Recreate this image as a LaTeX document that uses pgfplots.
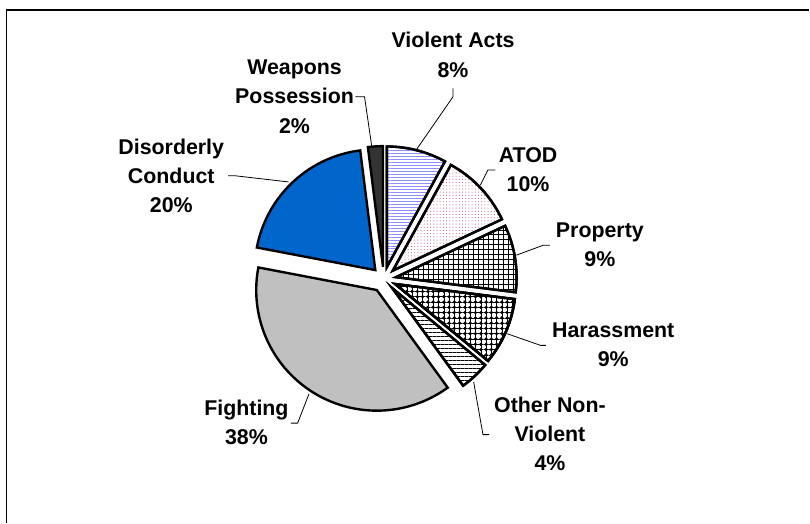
\documentclass[border=0pt]{standalone}
\usepackage{fontspec}
\setmainfont{Liberation Sans}
\usepackage{pgfplots}
\pgfplotsset{compat=1.18}
\usetikzlibrary{patterns,patterns.meta}

\definecolor{fightgray}{RGB}{192,192,192}
\definecolor{discblue}{RGB}{0,102,204}
\definecolor{weapdark}{RGB}{51,51,51}
\definecolor{vlines}{RGB}{140,140,255}
\definecolor{atoddots}{RGB}{190,70,100}

\def\cx{385}\def\cy{280}\def\R{121}

% #1 start (percent), #2 value (percent), #3 explosion, #4 style
\newcommand{\pieslice}[4]{%
 \pgfmathsetmacro{\sa}{90-3.6*(#1)}%
 \pgfmathsetmacro{\ea}{90-3.6*((#1)+(#2))}%
 \pgfmathsetmacro{\ma}{(\sa+\ea)/2}%
 \pgfmathsetmacro{\ax}{\cx+(#3)*cos(\ma)}%
 \pgfmathsetmacro{\ay}{\cy-(#3)*sin(\ma)}%
 \edef\doslice{\noexpand\addplot[\unexpanded{#4}, domain=\ea:\sa, samples=90]
   ({\ax+\R*cos(x)},{\ay-\R*sin(x)}) -- (axis cs:\ax,\ay) -- cycle;}%
 \doslice
}

\tikzset{lbl/.style={align=center, font={\fontsize{21.5}{29.5}\selectfont\bfseries}, inner sep=0pt}}

\begin{document}
\begin{tikzpicture}
\begin{axis}[x=1bp, y=1bp, scale only axis,
  xmin=0, xmax=810, ymin=0, ymax=525, y dir=reverse,
  hide axis, clip=false]
\path (axis cs:0,0) rectangle (axis cs:810,525);
% frame
\addplot[black, line width=1.2bp] coordinates {(6.5,525) (6.5,10) (812,10)};

% slices: start%, value%
\pieslice{0}{8}{12.4}{draw=black, line width=2.4bp, preaction={fill=white}, pattern={Lines[angle=0,distance=3bp,line width=0.6bp]}, pattern color=vlines}
\pieslice{8}{10}{12.4}{draw=black, line width=2.4bp, preaction={fill=white}, pattern={Dots[radius=0.5bp,distance=3.2bp]}, pattern color=atoddots}
\pieslice{18}{9}{12.4}{draw=black, line width=2.4bp, preaction={fill=white}, pattern={Hatch[angle=0,distance=5bp,line width=0.7bp]}, pattern color=black}
\pieslice{27}{9}{12.4}{draw=black, line width=2.4bp, preaction={fill=white}, preaction={pattern={Hatch[angle=0,distance=5.3bp,line width=0.5bp]}, pattern color=black}, pattern={Dots[radius=1.8bp,distance=5.3bp]}, pattern color=black}
\pieslice{36}{4}{12.4}{draw=black, line width=2.4bp, preaction={fill=white}, pattern={Lines[angle=0,distance=4bp,line width=1.4bp]}, pattern color=black}
\pieslice{40}{38}{13}{draw=black, line width=2.4bp, fill=fightgray}
\pieslice{78}{20}{12.4}{draw=black, line width=2.4bp, fill=discblue}
\pieslice{98}{2}{12.4}{draw=black, line width=2.4bp, fill=weapdark}

% leader lines
\addplot[black, line width=0.8bp] coordinates {(454.5,88.7) (454.5,97) (417.4,150.6)};
\addplot[black, line width=0.8bp] coordinates {(356.4,97) (365.7,97) (373,147.3)};
\addplot[black, line width=0.8bp] coordinates {(228.8,176.4) (236.6,176.4) (289.3,182.5)};
\addplot[black, line width=0.8bp] coordinates {(497,170.5) (489.5,170.5) (482,185.5)};
\addplot[black, line width=0.8bp] coordinates {(551.7,246) (545,246) (518,256)};
\addplot[black, line width=0.8bp] coordinates {(547.5,346.5) (542.3,346.5) (508.8,334.8)};
\addplot[black, line width=0.8bp] coordinates {(490.7,436) (484.5,436) (475.2,383.3)};
\addplot[black, line width=0.8bp] coordinates {(291.8,424.5) (298.6,424.5) (310,395)};

% labels
\node[lbl] at (axis cs:454.5,54.9) {Violent Acts\\8\%};
\node[lbl] at (axis cs:295.5,96.8) {Weapons\\Possession\\2\%};
\node[lbl] at (axis cs:171.8,176.6) {Disorderly\\Conduct\\20\%};
\node[lbl] at (axis cs:529.7,170.4) {ATOD\\10\%};
\node[lbl] at (axis cs:601.8,245.3) {Property\\9\%};
\node[lbl] at (axis cs:615.2,345.7) {Harassment\\9\%};
\node[lbl] at (axis cs:551.7,435.2) {Other Non-\\Violent\\4\%};
\node[lbl] at (axis cs:247.2,423.5) {Fighting\\38\%};
\end{axis}
\end{tikzpicture}
\end{document}
